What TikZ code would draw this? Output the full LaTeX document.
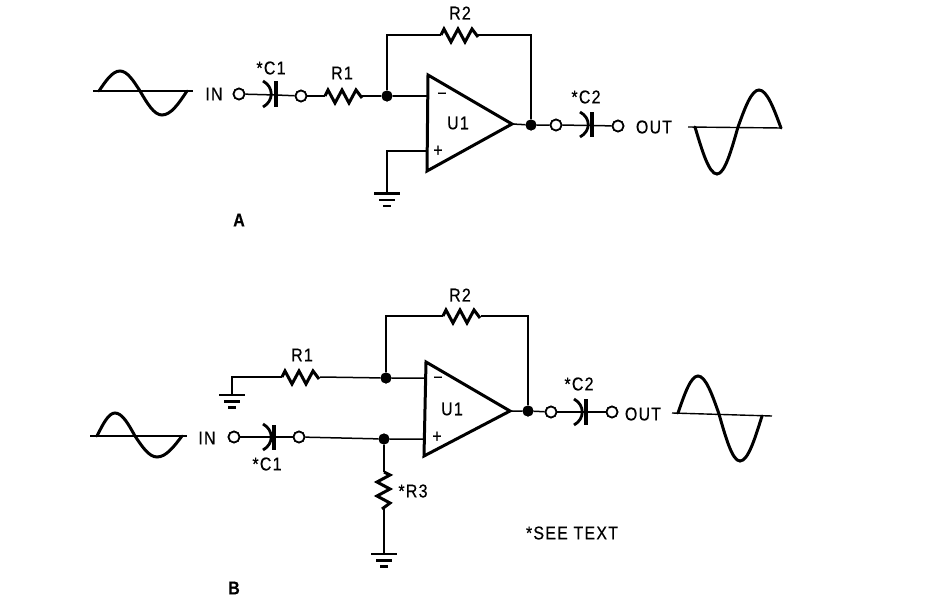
\documentclass[tikz,border=0pt]{standalone}
\usepackage{fontspec}
\setmainfont[FakeBold=0.5,LetterSpace=8]{Liberation Sans}
\newcommand{\lblfont}{\fontsize{18.5}{18.5}\selectfont}
\newcommand{\gnd}[1]{%
  \draw[gndline] ([xshift=-13pt]#1) -- ([xshift=13pt]#1);
  \draw[gndline] ([shift={(-8pt,-6.5pt)}]#1) -- ([shift={(8pt,-6.5pt)}]#1);
  \draw[gndline] ([shift={(-4pt,-12.5pt)}]#1) -- ([shift={(4pt,-12.5pt)}]#1);
}
\tikzset{
  x=1pt, y=-1pt,
  wire/.style={line width=1.5pt, line join=miter},
  gndline/.style={line width=2.8pt},
  amp/.style={line width=3pt, line join=miter},
  sinewave/.style={line width=3pt, line cap=round},
  axisline/.style={line width=1.4pt},
  term/.style={circle, draw, line width=1.7pt, fill=white, inner sep=0pt, minimum size=11pt},
  junction/.style={circle, fill=black, inner sep=0pt, minimum size=11pt},
  lbl/.style={font=\lblfont, xscale=.86, inner sep=0pt},
  boldlbl/.style={font=\lblfont\bfseries, xscale=.86, inner sep=0pt},
  resistor/.pic={\draw[line width=3pt, line join=miter] (0,0) -- (3,-6) -- (10,7) -- (17,-6) -- (24,7) -- (31,-6) -- (37,2);},
  capplate/.style={line width=3.4pt},
  caparc/.style={line width=2.8pt},
}
\begin{document}
\begin{tikzpicture}
\useasboundingbox (0,0) rectangle (930,605);

% ---------- Circuit A ----------
\coordinate (aR1a) at (325,96); \coordinate (aR1b) at (362,96);
\coordinate (aR2a) at (441,35); \coordinate (aR2b) at (478,35);
\coordinate (aC1) at (276,95);  \coordinate (aC2) at (592,125.5);
\coordinate (aAmpT) at (428,75); \coordinate (aAmpO) at (512,124); \coordinate (aAmpB) at (427,171);
\coordinate (aMinus) at (427,96); \coordinate (aPlus) at (427,151);
\coordinate (aCorner) at (531,35);
\coordinate (aGnd) at (387,193.5);
\node[term] (aIn) at (239,94) {};
\node[term] (aC1t) at (301,96) {};
\node[term] (aOutA) at (556,125) {};
\node[term] (aOutB) at (618,126) {};
\node[junction] (aJ1) at (387,96) {};
\node[junction] (aJ2) at (531,125) {};

\draw[wire] (aIn) -- (aC1) -- (aC1t);
\draw[wire] (aC1t) -- (aR1a);
\draw[wire] (aR1b) -- (aJ1) -- (aMinus);
\draw[wire] (aJ1) -- (aJ1 |- aR2a) -- (aR2a);
\draw[wire] (aR2b) -- (aCorner) -- (aJ2);
\draw[wire] (aAmpO) -- (aJ2) -- (aOutA);
\draw[wire] (aOutA) -- (aC2) -- (aOutB);
\draw[wire] (aPlus) -- (aGnd |- aPlus) -- (aGnd);
\node[term] at (aIn) {}; \node[term] at (aC1t) {}; \node[term] at (aOutA) {}; \node[term] at (aOutB) {};
\node[junction] at (aJ1) {}; \node[junction] at (aJ2) {};
\draw[amp] (aAmpT) -- (aAmpO) -- (aAmpB) -- cycle;
\pic at (aR1a) {resistor};
\pic at (aR2a) {resistor};
\gnd{aGnd}
\draw[capplate] (276,81) -- (276,107);
\draw[caparc] (263,81) .. controls (274,87) and (274,101) .. (263,107);
\draw[capplate] (592,112) -- (592,137);
\draw[caparc] (580,112) .. controls (591,118) and (591,131) .. (580,137);

\draw[axisline] (93,91) -- (193,91);
\draw[sinewave] (99,91) sin (120,71) cos (140,91) sin (162,115) cos (187,91);
\draw[axisline] (688,127) -- (782,128);
\draw[sinewave] (695,127) sin (717,174) cos (738,127) sin (759,90) cos (781,128);

\node[lbl] (aINl) at (214,94) {IN};
\node[lbl] (aC1l) at (271,68) {*C1};
\node[lbl] (aR1l) at (342,73) {R1};
\node[lbl] (aR2l) at (460,13) {R2};
\node[lbl] (aC2l) at (586,97) {*C2};
\node[lbl] (aU1l) at (458,123) {U1};
\node[lbl] (aOUTl) at (654,127) {OUT};
\node[lbl] (aMl) at (442,96) {\textminus};
\node[lbl] (aPl) at (438,151) {+};
\node[boldlbl] (aTitle) at (239,220) {A};

% ---------- Circuit B ----------
\coordinate (bR1a) at (282,377); \coordinate (bR1b) at (320,377);
\coordinate (bR2a) at (443,316); \coordinate (bR2b) at (481,316);
\coordinate (bR3a) at (384,472); \coordinate (bR3b) at (384,509);
\coordinate (bC1) at (274,437); \coordinate (bC2) at (586,412);
\coordinate (bAmpT) at (426,362); \coordinate (bAmpO) at (510,411); \coordinate (bAmpB) at (424,456);
\coordinate (bMinus) at (426,378); \coordinate (bPlus) at (425,439);
\coordinate (bCorner) at (528,316);
\coordinate (bGndA) at (232,395);
\coordinate (bGndB) at (384,554);
\node[term] (bIn) at (234,437) {};
\node[term] (bC1t) at (299,437) {};
\node[term] (bOutA) at (551,412) {};
\node[term] (bOutB) at (612,412) {};
\node[junction] (bJ1) at (386,378) {};
\node[junction] (bJ2) at (528,411) {};
\node[junction] (bJ3) at (384,439) {};

\draw[wire] (bIn) -- (bC1) -- (bC1t);
\draw[wire] (bC1t) -- (bJ3) -- (bPlus);
\draw[wire] (bGndA) -- (bGndA |- bR1a) -- (bR1a);
\draw[wire] (bR1b) -- (bJ1) -- (bMinus);
\draw[wire] (bJ1) -- (bJ1 |- bR2a) -- (bR2a);
\draw[wire] (bR2b) -- (bCorner) -- (bJ2);
\draw[wire] (bAmpO) -- (bJ2) -- (bOutA);
\draw[wire] (bOutA) -- (bC2) -- (bOutB);
\draw[wire] (bJ3) -- (bR3a);
\draw[wire] (bR3b) -- (bGndB);
\node[term] at (bIn) {}; \node[term] at (bC1t) {}; \node[term] at (bOutA) {}; \node[term] at (bOutB) {};
\node[junction] at (bJ1) {}; \node[junction] at (bJ2) {}; \node[junction] at (bJ3) {};
\draw[amp] (bAmpT) -- (bAmpO) -- (bAmpB) -- cycle;
\pic at (bR1a) {resistor};
\pic at (bR2a) {resistor};
\pic[rotate=-90] at (bR3a) {resistor};
\gnd{bGndA}
\gnd{bGndB}
\draw[capplate] (274,425) -- (274,450);
\draw[caparc] (263,424) .. controls (274,430) and (274,444) .. (263,450);
\draw[capplate] (586,399) -- (586,425);
\draw[caparc] (574,399) .. controls (585,405) and (585,419) .. (574,425);

\draw[axisline] (90,436) -- (187,436);
\draw[sinewave] (97,436) sin (115,413) cos (135,436) sin (157,457) cos (182,436);
\draw[axisline] (672,413) -- (772,416);
\draw[sinewave] (678,413) sin (698,376) cos (719,414) sin (740,461) cos (762,416);

\node[lbl] (bINl) at (207,438) {IN};
\node[lbl] (bC1l) at (267,464) {*C1};
\node[lbl] (bR1l) at (302,355) {R1};
\node[lbl] (bR2l) at (460,295) {R2};
\node[lbl] (bR3l) at (413,491) {*R3};
\node[lbl] (bC2l) at (579,384) {*C2};
\node[lbl] (bU1l) at (452,409) {U1};
\node[lbl] (bOUTl) at (643,414) {OUT};
\node[lbl] (bMl) at (438,380) {\textminus};
\node[lbl] (bPl) at (437,437) {+};
\node[lbl] (note) at (572,533) {*SEE TEXT};
\node[boldlbl] (bTitle) at (234,588) {B};
\end{tikzpicture}
\end{document}
